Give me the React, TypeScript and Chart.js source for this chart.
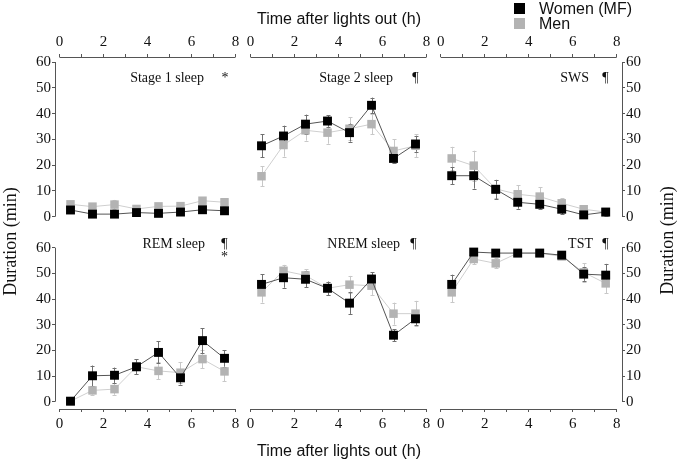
import React, { useEffect, useRef } from 'react';
import { Chart, registerables } from 'chart.js';

Chart.register(...registerables);

// ---------------- data ----------------
const HOURS = [0.5, 1.5, 2.5, 3.5, 4.5, 5.5, 6.5, 7.5];
const X_TICKS = [0, 1, 2, 3, 4, 5, 6, 7, 8];
const Y_TICKS = [0, 10, 20, 30, 40, 50, 60];
const SERIES_NAMES = ['Women (MF)', 'Men'];

const STAGE1_WOMEN = [2.6, 1.0, 1.0, 1.6, 1.3, 1.8, 2.7, 2.3];
const STAGE1_WOMEN_SE = [0.8, 0.5, 0.5, 0.6, 0.6, 0.6, 0.8, 0.7];
const STAGE1_MEN = [4.8, 3.9, 4.7, 3.0, 4.0, 4.1, 6.2, 5.6];
const STAGE1_MEN_SE = [1.2, 1.2, 1.8, 1.0, 1.3, 1.2, 1.4, 1.3];

const STAGE2_WOMEN = [27.5, 31.3, 35.9, 37.1, 32.6, 43.2, 22.6, 28.2];
const STAGE2_WOMEN_SE = [4.5, 4.0, 3.7, 2.2, 3.5, 3.0, 1.6, 3.0];
const STAGE2_MEN = [15.7, 27.8, 33.5, 32.6, 34.1, 35.9, 25.5, 27.5];
const STAGE2_MEN_SE = [3.9, 4.5, 4.0, 4.3, 4.5, 4.0, 4.5, 4.5];

const SWS_WOMEN = [15.9, 15.9, 10.6, 5.6, 4.8, 2.9, 0.7, 1.8];
const SWS_WOMEN_SE = [3.2, 5.0, 3.7, 2.5, 2.0, 2.0, 0.6, 1.5];
const SWS_MEN = [22.6, 19.8, 10.8, 8.7, 7.8, 5.2, 2.9, 1.8];
const SWS_MEN_SE = [4.5, 5.8, 3.5, 3.5, 3.6, 2.0, 1.5, 1.5];

const REM_WOMEN = [0.2, 10.1, 10.3, 13.6, 19.2, 9.3, 23.8, 16.9];
const REM_WOMEN_SE = [0.3, 4.0, 3.0, 3.0, 4.3, 2.6, 4.9, 3.2];
const REM_MEN = [0.2, 4.4, 4.9, 13.6, 12.0, 11.3, 16.6, 11.8];
const REM_MEN_SE = [0.3, 1.6, 2.2, 3.0, 3.3, 4.0, 3.6, 3.9];

const NREM_WOMEN = [45.7, 48.3, 47.7, 44.2, 38.4, 47.8, 25.9, 32.3];
const NREM_WOMEN_SE = [4.0, 3.9, 3.2, 2.6, 4.2, 2.6, 2.4, 2.4];
const NREM_MEN = [42.6, 51.0, 49.2, 44.2, 45.6, 45.2, 34.3, 34.3];
const NREM_MEN_SE = [4.0, 2.3, 2.5, 2.6, 3.4, 3.6, 4.3, 5.0];

const TST_WOMEN = [45.7, 58.3, 57.9, 57.9, 57.9, 57.1, 49.7, 49.3];
const TST_WOMEN_SE = [3.8, 0.8, 0.7, 0.5, 0.5, 0.8, 2.6, 4.4];
const TST_MEN = [42.6, 55.6, 53.9, 57.9, 57.9, 56.6, 50.4, 46.1];
const TST_MEN_SE = [3.9, 2.0, 2.0, 0.6, 0.6, 1.0, 3.6, 3.9];

// ---------------- layout / style ----------------
const W = 678;
const H = 462;
const SERIF = '"Liberation Serif", "Times New Roman", Times, serif';
const SANS = '"Liberation Sans", Arial, Helvetica, sans-serif';
const AXIS_COLOR = '#555';
const TEXT_COLOR = '#111';
const WOMEN_MARK = '#000000';
const WOMEN_LINE = '#555555';
const WOMEN_ERR = '#707070';
const MEN_MARK = '#b3b3b3';
const MEN_LINE = '#cfcfcf';
const MEN_ERR = '#c8c8c8';

const Y_AX_W = 30;
const X_AX_H = 25;

const COLS = [
  { l: 55, r: 235.5, min: -0.2045, max: 8, yPos: 'left' },
  { l: 250.5, r: 426.5, min: 0, max: 8, yPos: '' },
  { l: 440.7, r: 622, min: 0, max: 8.241, yPos: 'right' },
];
const ROWS = [
  { t: 57, b: 216.7, min: 0, max: 61.94, xPos: 'top', titleY: 82 },
  { t: 247.7, b: 409, min: -2.844, max: 60, xPos: 'bottom', titleY: 248 },
];

type Panel = {
  title: string;
  titleRight: number;
  marks: { s: string; x: number; dy: number }[];
  col: number;
  row: number;
  women: number[];
  womenSe: number[];
  men: number[];
  menSe: number[];
};

const PANELS: Panel[] = [
  { title: 'Stage 1 sleep', titleRight: 204, marks: [{ s: '*', x: 225, dy: 0 }], col: 0, row: 0,
    women: STAGE1_WOMEN, womenSe: STAGE1_WOMEN_SE, men: STAGE1_MEN, menSe: STAGE1_MEN_SE },
  { title: 'Stage 2 sleep', titleRight: 393, marks: [{ s: '¶', x: 415.5, dy: 0 }], col: 1, row: 0,
    women: STAGE2_WOMEN, womenSe: STAGE2_WOMEN_SE, men: STAGE2_MEN, menSe: STAGE2_MEN_SE },
  { title: 'SWS', titleRight: 589, marks: [{ s: '¶', x: 605.5, dy: 0 }], col: 2, row: 0,
    women: SWS_WOMEN, womenSe: SWS_WOMEN_SE, men: SWS_MEN, menSe: SWS_MEN_SE },
  { title: 'REM sleep', titleRight: 205, marks: [{ s: '¶', x: 224.5, dy: 0 }, { s: '*', x: 224.5, dy: 13 }], col: 0, row: 1,
    women: REM_WOMEN, womenSe: REM_WOMEN_SE, men: REM_MEN, menSe: REM_MEN_SE },
  { title: 'NREM sleep', titleRight: 400, marks: [{ s: '¶', x: 413.5, dy: 0 }], col: 1, row: 1,
    women: NREM_WOMEN, womenSe: NREM_WOMEN_SE, men: NREM_MEN, menSe: NREM_MEN_SE },
  { title: 'TST', titleRight: 593, marks: [{ s: '¶', x: 605.5, dy: 0 }], col: 2, row: 1,
    women: TST_WOMEN, womenSe: TST_WOMEN_SE, men: TST_MEN, menSe: TST_MEN_SE },
];

const px = (v: number) => Math.round(v) + 0.5;

function buildConfig(p: Panel, withGlobal: boolean): any {
  const col = COLS[p.col];
  const row = ROWS[p.row];
  const showY = col.yPos !== '';
  const padding = {
    left: col.l - (col.yPos === 'left' ? Y_AX_W : 0),
    right: W - col.r - (col.yPos === 'right' ? Y_AX_W : 0),
    top: row.t - (row.xPos === 'top' ? X_AX_H : 0),
    bottom: H - row.b - (row.xPos === 'bottom' ? X_AX_H : 0),
  };

  const mkData = (vals: number[]) => HOURS.map((h, i) => ({ x: h, y: vals[i] }));

  const errorBars = {
    id: 'errorBars',
    beforeDatasetsDraw(chart: any) {
      const ctx = chart.ctx;
      const xs = chart.scales.x;
      const ys = chart.scales.y;
      for (let di = chart.data.datasets.length - 1; di >= 0; di--) {
        const ds = chart.data.datasets[di];
        ctx.save();
        ctx.strokeStyle = ds.errColor;
        ctx.lineWidth = 1;
        ds.data.forEach((pt: any, i: number) => {
          const e = ds.errors[i];
          const x = px(xs.getPixelForValue(pt.x));
          const y1 = ys.getPixelForValue(pt.y + e);
          const y2 = ys.getPixelForValue(pt.y - e);
          ctx.beginPath();
          ctx.moveTo(x, y1);
          ctx.lineTo(x, y2);
          ctx.moveTo(x - 2, px(y1));
          ctx.lineTo(x + 2, px(y1));
          ctx.moveTo(x - 2, px(y2));
          ctx.lineTo(x + 2, px(y2));
          ctx.stroke();
        });
        ctx.restore();
      }
    },
  };

  const axisLines = {
    id: 'axisLines',
    afterDraw(chart: any) {
      const ctx = chart.ctx;
      const xs = chart.scales.x;
      const ys = chart.scales.y;
      const a = chart.chartArea;
      ctx.save();
      ctx.strokeStyle = AXIS_COLOR;
      ctx.lineWidth = 1;
      ctx.beginPath();
      const xEdge = row.xPos === 'top' ? a.top : a.bottom;
      ctx.moveTo(xs.getPixelForValue(X_TICKS[0]), px(xEdge));
      ctx.lineTo(xs.getPixelForValue(X_TICKS[X_TICKS.length - 1]), px(xEdge));
      if (showY) {
        const yEdge = col.yPos === 'left' ? a.left : a.right;
        ctx.moveTo(px(yEdge), ys.getPixelForValue(Y_TICKS[0]));
        ctx.lineTo(px(yEdge), ys.getPixelForValue(Y_TICKS[Y_TICKS.length - 1]));
      }
      ctx.stroke();
      ctx.restore();
    },
  };

  const panelTitle = {
    id: 'panelTitle',
    afterDraw(chart: any) {
      const ctx = chart.ctx;
      ctx.save();
      ctx.fillStyle = TEXT_COLOR;
      ctx.font = `14px ${SERIF}`;
      ctx.textBaseline = 'alphabetic';
      ctx.textAlign = 'right';
      ctx.fillText(p.title, p.titleRight, row.titleY);
      ctx.textAlign = 'center';
      p.marks.forEach((m) => ctx.fillText(m.s, m.x, row.titleY + m.dy));
      ctx.restore();
    },
  };

  const globalText = {
    id: 'globalText',
    afterDraw(chart: any) {
      const ctx = chart.ctx;
      ctx.save();
      ctx.fillStyle = TEXT_COLOR;
      ctx.font = `16px ${SANS}`;
      ctx.textAlign = 'center';
      ctx.textBaseline = 'alphabetic';
      ctx.fillText('Time after lights out (h)', 339, 24);
      ctx.fillText('Time after lights out (h)', 339, 456);
      // legend
      ctx.textAlign = 'left';
      ctx.fillStyle = WOMEN_MARK;
      ctx.fillRect(514, 3, 11, 11);
      ctx.fillStyle = MEN_MARK;
      ctx.fillRect(514, 18, 11, 11);
      ctx.fillStyle = TEXT_COLOR;
      ctx.fillText(SERIES_NAMES[0], 539, 13.5);
      ctx.fillText(SERIES_NAMES[1], 539, 28.5);
      // y titles
      ctx.font = `18px ${SERIF}`;
      ctx.textAlign = 'center';
      [
        [15.5, 241.5],
        [672.5, 240.5],
      ].forEach(([x, y]) => {
        ctx.save();
        ctx.translate(x, y);
        ctx.rotate(-Math.PI / 2);
        ctx.fillText('Duration (min)', 0, 0);
        ctx.restore();
      });
      ctx.restore();
    },
  };

  const tickFont = { family: SERIF, size: 15 };

  return {
    type: 'line',
    data: {
      datasets: [
        {
          label: SERIES_NAMES[0],
          data: mkData(p.women),
          errors: p.womenSe,
          errColor: WOMEN_ERR,
          borderColor: WOMEN_LINE,
          borderWidth: 1,
          pointStyle: 'rect',
          pointRadius: 6.3,
          pointBackgroundColor: WOMEN_MARK,
          pointBorderColor: WOMEN_MARK,
          pointBorderWidth: 0,
          tension: 0,
          clip: false,
        },
        {
          label: SERIES_NAMES[1],
          data: mkData(p.men),
          errors: p.menSe,
          errColor: MEN_ERR,
          borderColor: MEN_LINE,
          borderWidth: 1,
          pointStyle: 'rect',
          pointRadius: 6,
          pointBackgroundColor: MEN_MARK,
          pointBorderColor: MEN_MARK,
          pointBorderWidth: 0,
          tension: 0,
          clip: false,
        },
      ],
    },
    options: {
      responsive: false,
      animation: false,
      events: [],
      devicePixelRatio: 1,
      layout: { padding },
      plugins: {
        legend: { display: false },
        tooltip: { enabled: false },
        title: { display: false },
      },
      scales: {
        x: {
          type: 'linear',
          position: row.xPos,
          min: col.min,
          max: col.max,
          afterBuildTicks: (s: any) => {
            s.ticks = X_TICKS.map((v) => ({ value: v }));
          },
          afterFit: (s: any) => {
            s.height = X_AX_H;
          },
          grid: {
            display: true,
            drawOnChartArea: false,
            drawTicks: true,
            tickLength: 3,
            color: AXIS_COLOR,
            lineWidth: 1,
          },
          border: { display: false },
          ticks: {
            autoSkip: false,
            maxRotation: 0,
            minRotation: 0,
            padding: 3,
            color: TEXT_COLOR,
            font: tickFont,
            callback: (v: any) => (Number(v) % 2 === 0 ? String(v) : ''),
          },
        },
        y: {
          type: 'linear',
          display: showY,
          position: showY ? col.yPos : 'left',
          min: row.min,
          max: row.max,
          afterBuildTicks: (s: any) => {
            s.ticks = Y_TICKS.map((v) => ({ value: v }));
          },
          afterFit: (s: any) => {
            if (showY) s.width = Y_AX_W;
          },
          grid: {
            display: true,
            drawOnChartArea: false,
            drawTicks: true,
            tickLength: 3,
            color: AXIS_COLOR,
            lineWidth: 1,
          },
          border: { display: false },
          ticks: {
            autoSkip: false,
            padding: 1,
            color: TEXT_COLOR,
            font: tickFont,
            callback: (v: any) => String(v),
          },
        },
      },
    },
    plugins: withGlobal
      ? [errorBars, axisLines, panelTitle, globalText]
      : [errorBars, axisLines, panelTitle],
  };
}

export default function App() {
  const refs = useRef<(HTMLCanvasElement | null)[]>([]);

  useEffect(() => {
    const charts = PANELS.map((p, i) => new Chart(refs.current[i] as HTMLCanvasElement, buildConfig(p, i === 0)));
    return () => charts.forEach((c) => c.destroy());
  }, []);

  return (
    <div style={{ position: 'absolute', left: 0, top: 0, width: W, height: H, background: '#fff' }}>
      {PANELS.map((p, i) => (
        <canvas
          key={p.title}
          ref={(el) => {
            refs.current[i] = el;
          }}
          width={W}
          height={H}
          style={{ position: 'absolute', left: 0, top: 0, width: W, height: H }}
        />
      ))}
    </div>
  );
}
